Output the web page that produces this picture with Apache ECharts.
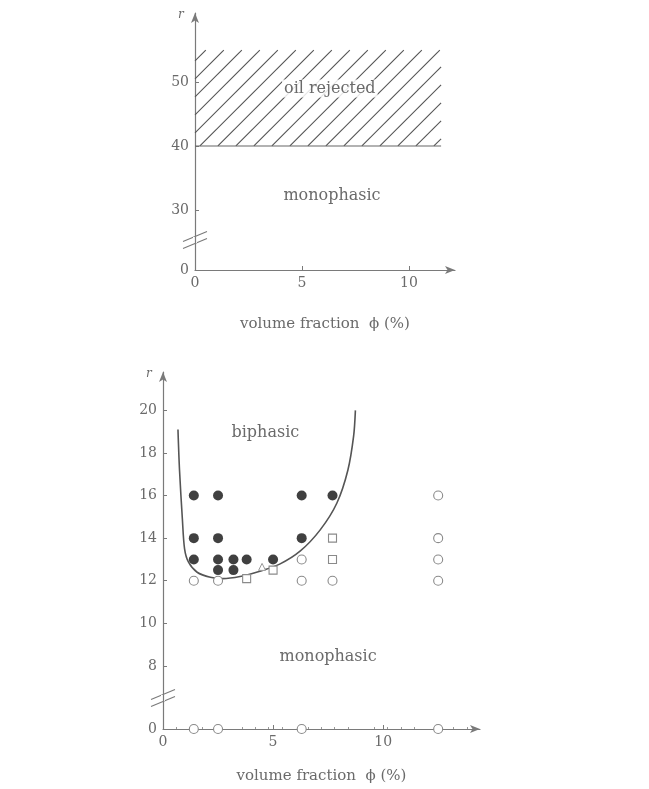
<!DOCTYPE html>
<html>
<head>
<meta charset="utf-8">
<script src="https://cdn.jsdelivr.net/npm/echarts@6/dist/echarts.min.js"></script>
<style>
  html, body { margin: 0; padding: 0; background: #fff; }
  #chart { width: 649px; height: 789px; }
</style>
</head>
<body>
<div id="chart"></div>
<script>
// ---- upper panel: oil rejection limit ----
const topXTicks = [0, 5, 10];
const topYTicks = [30, 40, 50];
const topBreakValue = 20.6;            // position drawn as "0" below the axis break
const rejectedRegion = [0, 11.5, 40, 55]; // x0, x1, r0, r1

// ---- lower panel: phase diagram ----
const lowXTicks = [0, 5, 10];
const lowYTicks = [8, 10, 12, 14, 16, 18, 20];
const lowBreakValue = 5.04;            // position drawn as "0" below the axis break

// biphasic samples (filled)
const biphasicPts = [
  [1.4, 16], [2.5, 16], [6.3, 16], [7.7, 16],
  [1.4, 14], [2.5, 14], [6.3, 14],
  [1.4, 13], [2.5, 13], [3.2, 13], [3.8, 13], [5.0, 13],
  [2.5, 12.5], [3.2, 12.5]
];
// monophasic samples (open circles)
const monoCircles = [
  [1.4, 12], [2.5, 12], [6.3, 13], [6.3, 12], [7.7, 12],
  [12.5, 16], [12.5, 14], [12.5, 13], [12.5, 12]
];
// monophasic samples (open squares)
const monoSquares = [[3.8, 12.1], [5.0, 12.5], [7.7, 14], [7.7, 13]];
// monophasic sample (open triangle)
const monoTriangles = [[4.5, 12.65]];
// samples at r = 0 (drawn on the broken baseline)
const zeroRowX = [1.4, 2.5, 6.3, 12.5];

// phase boundary
const boundaryX = [0.68, 0.75, 0.88, 0.98, 1.16, 1.55, 2.15, 2.7, 3.5, 4.4, 5.3, 6.24, 7.15, 7.9, 8.4, 8.66, 8.74];
const boundaryY = [19.1, 17.2, 14.9, 13.5, 12.87, 12.4, 12.16, 12.1, 12.2, 12.45, 12.78, 13.4, 14.4, 15.65, 17.2, 18.8, 20.0];

const FONT = 'DejaVu Serif';
const TXT = '#6a6a6a';
const AX = '#7a7a7a';

function yAxisCfg(grid, min, max, ticks, breakVal) {
  const vals = [breakVal].concat(ticks);
  return {
    gridIndex: grid, type: 'value', min: min, max: max,
    axisLine: { show: true, lineStyle: { color: AX, width: 1.2 }, symbol: ['none', 'arrow'], symbolSize: [6, 10] },
    axisTick: { show: true, inside: true, length: 4, customValues: ticks, lineStyle: { color: AX } },
    axisLabel: {
      customValues: vals, color: TXT, fontFamily: FONT, fontSize: 14, margin: 6,
      formatter: v => (Math.abs(v - breakVal) < 0.01 ? '0' : String(v))
    },
    splitLine: { show: false }
  };
}

function xAxisCfg(grid, max, ticks, minor, gap) {
  return {
    gridIndex: grid, type: 'value', min: 0, max: max,
    name: 'volume fraction  ϕ (%)', nameLocation: 'middle', nameGap: gap,
    nameTextStyle: { color: TXT, fontFamily: FONT, fontSize: 15 },
    axisLine: { show: true, lineStyle: { color: AX, width: 1.2 }, symbol: ['none', 'arrow'], symbolSize: [6, 10] },
    axisTick: { show: true, inside: true, length: 4, customValues: ticks.filter(t => t > 0), lineStyle: { color: AX } },
    minorTick: { show: minor, splitNumber: 5, length: 2, lineStyle: { color: '#999' } },
    axisLabel: { customValues: ticks, color: TXT, fontFamily: FONT, fontSize: 14, margin: 6 },
    splitLine: { show: false }
  };
}

// diagonal hatching inside a rectangle, plus its lower edge
function renderHatch(params, api) {
  const p0 = api.coord([api.value(0), api.value(2)]);
  const p1 = api.coord([api.value(1), api.value(3)]);
  const L = p0[0], R = p1[0], B = p0[1], T = p1[1];
  const step = 18;
  const children = [];
  for (let c = L + T + step * 0.6; c < R + B; c += step) {
    const xa = Math.max(L, c - B), xb = Math.min(R, c - T);
    if (xb - xa < 1) continue;
    children.push({ type: 'line', shape: { x1: xa, y1: c - xa, x2: xb, y2: c - xb },
      style: { stroke: '#555', lineWidth: 1.1 } });
  }
  children.push({ type: 'line', shape: { x1: L, y1: B, x2: R, y2: B },
    style: { stroke: '#666', lineWidth: 1.1 } });
  return { type: 'group', children: children };
}

const chart = echarts.init(document.getElementById('chart'), null, { renderer: 'canvas' });

const openStyle = { color: '#fff', borderColor: '#8a8a8a', borderWidth: 1.1, opacity: 1 };

const option = {
  backgroundColor: '#fff',
  animation: false,
  grid: [
    { left: 195, top: 13, width: 260, height: 257 },
    { left: 163, top: 372, width: 317, height: 357 }
  ],
  xAxis: [xAxisCfg(0, 12.15, topXTicks, false, 47), xAxisCfg(1, 14.4, lowXTicks, true, 40)],
  yAxis: [
    yAxisCfg(0, topBreakValue, 60.8, topYTicks, topBreakValue),
    yAxisCfg(1, lowBreakValue, 21.8, lowYTicks, lowBreakValue)
  ],
  series: [
    {
      type: 'custom', xAxisIndex: 0, yAxisIndex: 0,
      renderItem: renderHatch, data: [rejectedRegion], silent: true
    },
    {
      type: 'line', xAxisIndex: 1, yAxisIndex: 1, smooth: 0.3, showSymbol: false,
      lineStyle: { color: '#555', width: 1.6 },
      data: boundaryX.map((x, i) => [x, boundaryY[i]]), z: 2
    },
    {
      type: 'scatter', xAxisIndex: 1, yAxisIndex: 1, symbol: 'circle', symbolSize: 10,
      itemStyle: { color: '#404040', opacity: 1 }, data: biphasicPts, z: 3
    },
    {
      type: 'scatter', xAxisIndex: 1, yAxisIndex: 1, symbol: 'circle', symbolSize: 9,
      itemStyle: openStyle, data: monoCircles, z: 3
    },
    {
      type: 'scatter', xAxisIndex: 1, yAxisIndex: 1, symbol: 'rect', symbolSize: 8,
      itemStyle: openStyle, data: monoSquares, z: 3
    },
    {
      type: 'scatter', xAxisIndex: 1, yAxisIndex: 1, symbol: 'triangle', symbolSize: 7,
      itemStyle: { color: '#fff', borderColor: '#9a9a9a', borderWidth: 1, opacity: 1 }, data: monoTriangles, z: 3
    },
    {
      type: 'scatter', xAxisIndex: 1, yAxisIndex: 1, symbol: 'circle', symbolSize: 9,
      itemStyle: openStyle, data: zeroRowX.map(x => [x, lowBreakValue]), z: 4
    }
  ]
};
chart.setOption(option);

// region names, axis symbols and axis-break marks
function px(grid, x, y) { return chart.convertToPixel({ gridIndex: grid }, [x, y]); }
function label(grid, x, y, text, boxed) {
  const p = px(grid, x, y);
  const style = { text: text, fill: TXT, font: '16px "' + FONT + '"', align: 'center', verticalAlign: 'middle' };
  if (boxed) { style.backgroundColor = 'rgba(255,255,255,0.85)'; style.padding = [1, 2]; }
  return { type: 'text', x: p[0], y: p[1], z: 10, style: style };
}
function breakMarks(grid, yVal) {
  const p = px(grid, 0, yVal);
  const out = [];
  [-3.5, 3.5].forEach(d => {
    out.push({ type: 'line', shape: { x1: p[0] - 12, y1: p[1] + d + 5, x2: p[0] + 12, y2: p[1] + d - 5 },
      style: { stroke: AX, lineWidth: 1.1 } });
  });
  out.push({ type: 'rect', shape: { x: p[0] - 2, y: p[1] - 3, width: 4, height: 6 }, style: { fill: '#fff' } });
  return out;
}
const topAxisTop = px(0, 0, 60.8);
const lowAxisTop = px(1, 0, 21.8);
chart.setOption({
  graphic: [
    label(0, 6.3, 49, 'oil rejected', true),
    label(0, 6.4, 32.2, 'monophasic'),
    label(1, 4.65, 18.95, 'biphasic'),
    label(1, 7.5, 8.45, 'monophasic'),
    { type: 'text', x: topAxisTop[0] - 17, y: topAxisTop[1] - 4,
      style: { text: 'r', fill: TXT, font: 'italic 12px "' + FONT + '"' } },
    { type: 'text', x: lowAxisTop[0] - 17, y: lowAxisTop[1] - 4,
      style: { text: 'r', fill: TXT, font: 'italic 12px "' + FONT + '"' } }
  ].concat(breakMarks(0, 25.3)).concat(breakMarks(1, 6.5))
});
</script>
</body>
</html>
